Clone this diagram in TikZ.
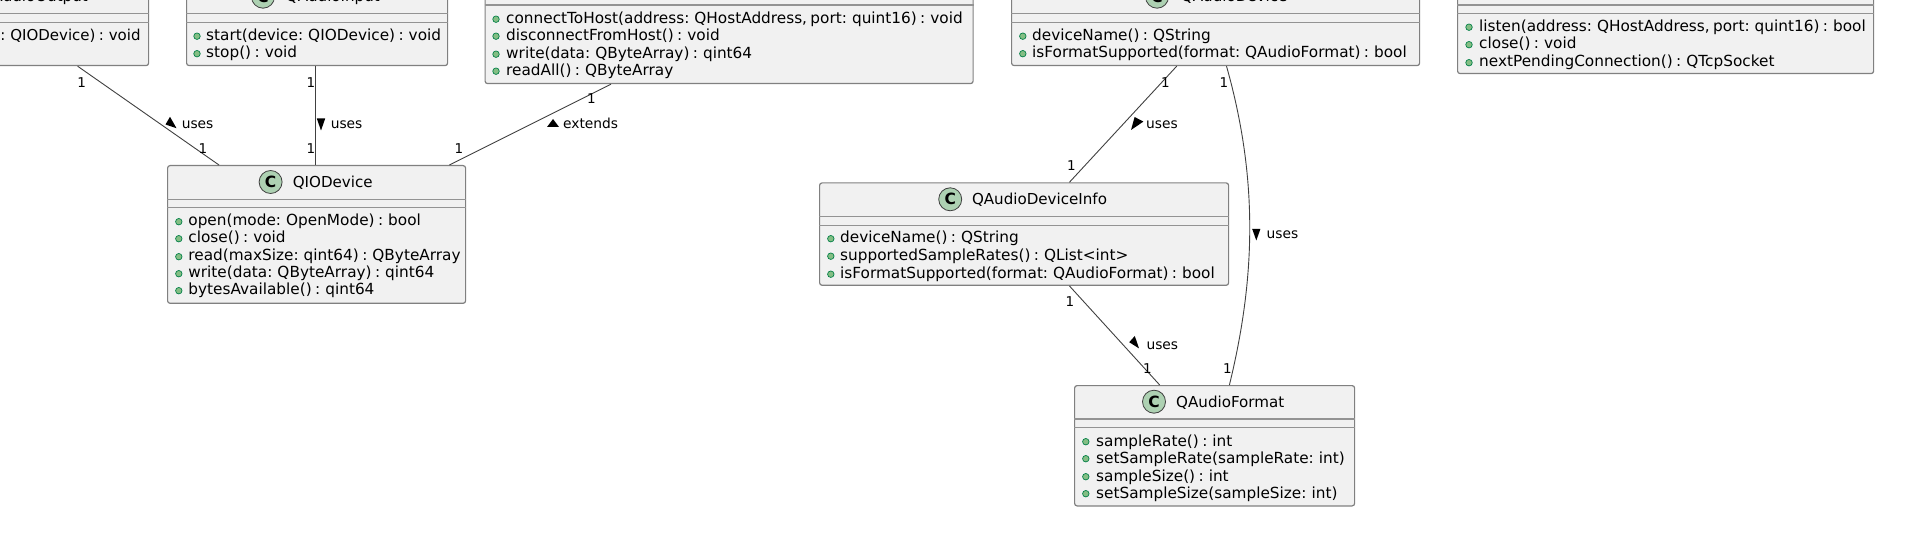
\documentclass[tikz,border=0pt]{standalone}
\usepackage{fontspec}
\setmainfont{DejaVu Sans}
\newfontfamily\memberfont{DejaVu Sans}[WordSpace=0.7]
\definecolor{boxfill}{HTML}{F1F1F1}
\definecolor{boxline}{HTML}{808080}
\definecolor{spotfill}{HTML}{ADD1B2}
\definecolor{dotfill}{HTML}{84BE84}
\definecolor{dotline}{HTML}{038048}
\tikzset{
    classbox/.style={draw=boxline,fill=boxfill,line width=1.2pt,rounded corners=2.5pt,inner sep=0pt,anchor=north west},
    divider/.style={draw=boxline!85,line width=1.1pt},
    spot/.style={circle,draw=black!75,fill=spotfill,line width=0.8pt,minimum size=23pt,inner sep=0pt,font=\fontsize{15.5}{15.5}\selectfont\bfseries},
    title/.style={inner sep=0pt,anchor=base west,font=\fontsize{15.1}{18}\selectfont},
    member/.style={inner sep=0pt,anchor=base west,font=\memberfont\fontsize{15.3}{18}\selectfont},
    dot/.style={circle,draw=dotline,fill=dotfill,line width=0.7pt,minimum size=6.5pt,inner sep=0pt},
    mult/.style={inner sep=0pt,font=\fontsize{13.5}{14}\selectfont},
    edgetext/.style={inner sep=0pt,anchor=base west,font=\fontsize{13.8}{14}\selectfont},
    link/.style={draw=black!75,line width=0.9pt}
}
\begin{document}
\begin{tikzpicture}[x=1pt,y=-1pt]
    \useasboundingbox (0,0) rectangle (1905,534);
    \clip (0,0) rectangle (1905,534);
    % boxes
    \node[classbox,minimum width=208pt,minimum height=85pt] (output) at (-60,-20) {};
    \node[classbox,minimum width=261pt,minimum height=85pt] (input) at (186,-20) {};
    \node[classbox,minimum width=488pt,minimum height=123pt] (socket) at (484.5,-40) {};
    \node[classbox,minimum width=408pt,minimum height=85pt] (device) at (1011,-20) {};
    \node[classbox,minimum width=416pt,minimum height=113pt] (server) at (1457,-40) {};
    \node[classbox,minimum width=298pt,minimum height=137.7pt] (iodevice) at (167,165) {};
    \node[classbox,minimum width=409pt,minimum height=102.4pt] (info) at (819,182.3) {};
    \node[classbox,minimum width=280pt,minimum height=120.3pt] (format) at (1074,385) {};
    % dividers
    \draw[divider] (-60,13.7) -- (output.east |- 0,13.7) (-60,22.3) -- (output.east |- 0,22.3);
    \draw[divider] (input.west |- 0,13.7) -- (input.east |- 0,13.7) (input.west |- 0,22.3) -- (input.east |- 0,22.3);
    \draw[divider] (socket.west |- 0,5) -- (socket.east |- 0,5);
    \draw[divider] (device.west |- 0,13.7) -- (device.east |- 0,13.7) (device.west |- 0,22.3) -- (device.east |- 0,22.3);
    \draw[divider] (server.west |- 0,5) -- (server.east |- 0,5) (server.west |- 0,13.7) -- (server.east |- 0,13.7);
    \draw[divider] (iodevice.west |- 0,199.3) -- (iodevice.east |- 0,199.3) (iodevice.west |- 0,207.7) -- (iodevice.east |- 0,207.7);
    \draw[divider] (info.west |- 0,216.7) -- (info.east |- 0,216.7) (info.west |- 0,225.4) -- (info.east |- 0,225.4);
    \draw[divider] (format.west |- 0,419) -- (format.east |- 0,419) (format.west |- 0,427.6) -- (format.east |- 0,427.6);
    % titles
    \node[title,anchor=base east] (outputname) at (88,1.7) {QAudioOutput};
    \node[spot] (inputspot) at (263,-3.3) {C};
    \node[title] (inputname) at (285.7,1.7) {QAudioInput};
    \node[spot] (devicespot) at (1157,-3.3) {C};
    \node[title] (devicename) at (1180.8,1.7) {QAudioDevice};
    \node[spot] (serverspot) at (1614.8,-12) {C};
    \node[spot] (iodevicespot) at (270.6,182) {C};
    \node[title] (iodevicename) at (292.6,187.3) {QIODevice};
    \node[spot] (infospot) at (950.2,199.3) {C};
    \node[title] (infoname) at (971.8,204.6) {QAudioDeviceInfo};
    \node[spot] (formatspot) at (1154,401.7) {C};
    \node[title] (formatname) at (1176,407) {QAudioFormat};
    % members
    \node[member,anchor=base east,font=\memberfont\fontsize{15}{18}\selectfont] (outputm) at (140.8,40.5) {: QIODevice) : void};
    \foreach \y/\t [count=\i] in {40.5/{start(device: QIODevice) : void},58/{stop() : void}} {
        \node[dot] (inputd\i) at (197,\y-4.3) {};
        \node[member] (inputm\i) at (206,\y) {\t};
    }
    \foreach \y/\t [count=\i] in {23.5/{connectToHost(address: QHostAddress, port: quint16) : void},40.5/{disconnectFromHost() : void},58.5/{write(data: QByteArray) : qint64},75.5/{readAll() : QByteArray}} {
        \node[dot] (socketd\i) at (496,\y-4.3) {};
        \node[member] (socketm\i) at (506,\y) {\t};
    }
    \foreach \y/\t [count=\i] in {40.5/{deviceName() : QString},58/{isFormatSupported(format: QAudioFormat) : bool}} {
        \node[dot] (deviced\i) at (1022.8,\y-4.3) {};
        \node[member] (devicem\i) at (1032,\y) {\t};
    }
    \foreach \y/\t [count=\i] in {31.5/{listen(address: QHostAddress, port: quint16) : bool},49/{close() : void},67/{nextPendingConnection() : QTcpSocket}} {
        \node[dot] (serverd\i) at (1469,\y-4.3) {};
        \node[member] (serverm\i) at (1479,\y) {\t};
    }
    \foreach \y/\t [count=\i] in {226/{open(mode: OpenMode) : bool},243/{close() : void},261/{read(maxSize: qint64) : QByteArray},278/{write(data: QByteArray) : qint64},295/{bytesAvailable() : qint64}} {
        \node[dot] (iodeviced\i) at (178.8,\y-4.3) {};
        \node[member] (iodevicem\i) at (188.2,\y) {\t};
    }
    \foreach \y/\t [count=\i] in {243/{deviceName() : QString},260.5/{supportedSampleRates() : QList<int>},278.5/{isFormatSupported(format: QAudioFormat) : bool}} {
        \node[dot] (infod\i) at (830.8,\y-4.3) {};
        \node[member] (infom\i) at (840,\y) {\t};
    }
    \foreach \y/\t [count=\i] in {446/{sampleRate() : int},463/{setSampleRate(sampleRate: int)},481/{sampleSize() : int},498/{setSampleSize(sampleSize: int)}} {
        \node[dot] (formatd\i) at (1085.8,\y-4.3) {};
        \node[member] (formatm\i) at (1096,\y) {\t};
    }
    % links
    \draw[link] ([xshift=77.6pt+60pt]output.south west) -- ([xshift=52pt]iodevice.north west);
    \draw[link] ([xshift=129.5pt]input.south west) -- ([xshift=148.5pt]iodevice.north west);
    \draw[link] ([xshift=126.5pt]socket.south west) -- ([xshift=282.4pt]iodevice.north west);
    \draw[link] ([xshift=165.7pt]device.south west) -- ([xshift=250.4pt]info.north west);
    \draw[link] ([xshift=215.5pt]device.south west) .. controls ([xshift=248pt,yshift=-115pt]device.south west) and ([xshift=181pt,yshift=105pt]format.north west) .. ([xshift=155.4pt]format.north west);
    \draw[link] ([xshift=250.4pt]info.south west) -- ([xshift=85.7pt]format.north west);
    % multiplicities
    \node[mult] (m1) at (81.6,82.3) {1};
    \node[mult] (m2) at (203,148.3) {1};
    \node[mult] (m3) at (311,82.3) {1};
    \node[mult] (m4) at (311,148.3) {1};
    \node[mult] (m5) at (591.4,99) {1};
    \node[mult] (m6) at (459,148.3) {1};
    \node[mult] (m7) at (1165.3,82.3) {1};
    \node[mult] (m8) at (1224,82.3) {1};
    \node[mult] (m9) at (1071.4,165.3) {1};
    \node[mult] (m10) at (1070,302) {1};
    \node[mult] (m11) at (1147.5,368.3) {1};
    \node[mult] (m12) at (1227.5,368.3) {1};
    % link labels
    \fill (165.5,124.5)--(170,116.8)--(176.5,128.2)--cycle;
    \node[edgetext] (l1) at (181.6,129) {uses};
    \fill (316.8,118.5)--(325.2,118.5)--(321,130.5)--cycle;
    \node[edgetext] (l2) at (330.6,129) {uses};
    \fill (547,127)--(559,127)--(553,119)--cycle;
    \node[edgetext] (l3) at (562.9,129) {extends};
    \fill (1131,130)--(1134.6,117)--(1143.4,121.6)--cycle;
    \node[edgetext] (l4) at (1146,129) {uses};
    \fill (1252.2,229)--(1260.4,229)--(1256.3,240.5)--cycle;
    \node[edgetext] (l5) at (1266.5,239) {uses};
    \fill (1129.2,342.2)--(1134.8,336)--(1139,348.4)--cycle;
    \node[edgetext] (l6) at (1146.3,349) {uses};
\end{tikzpicture}
\end{document}
